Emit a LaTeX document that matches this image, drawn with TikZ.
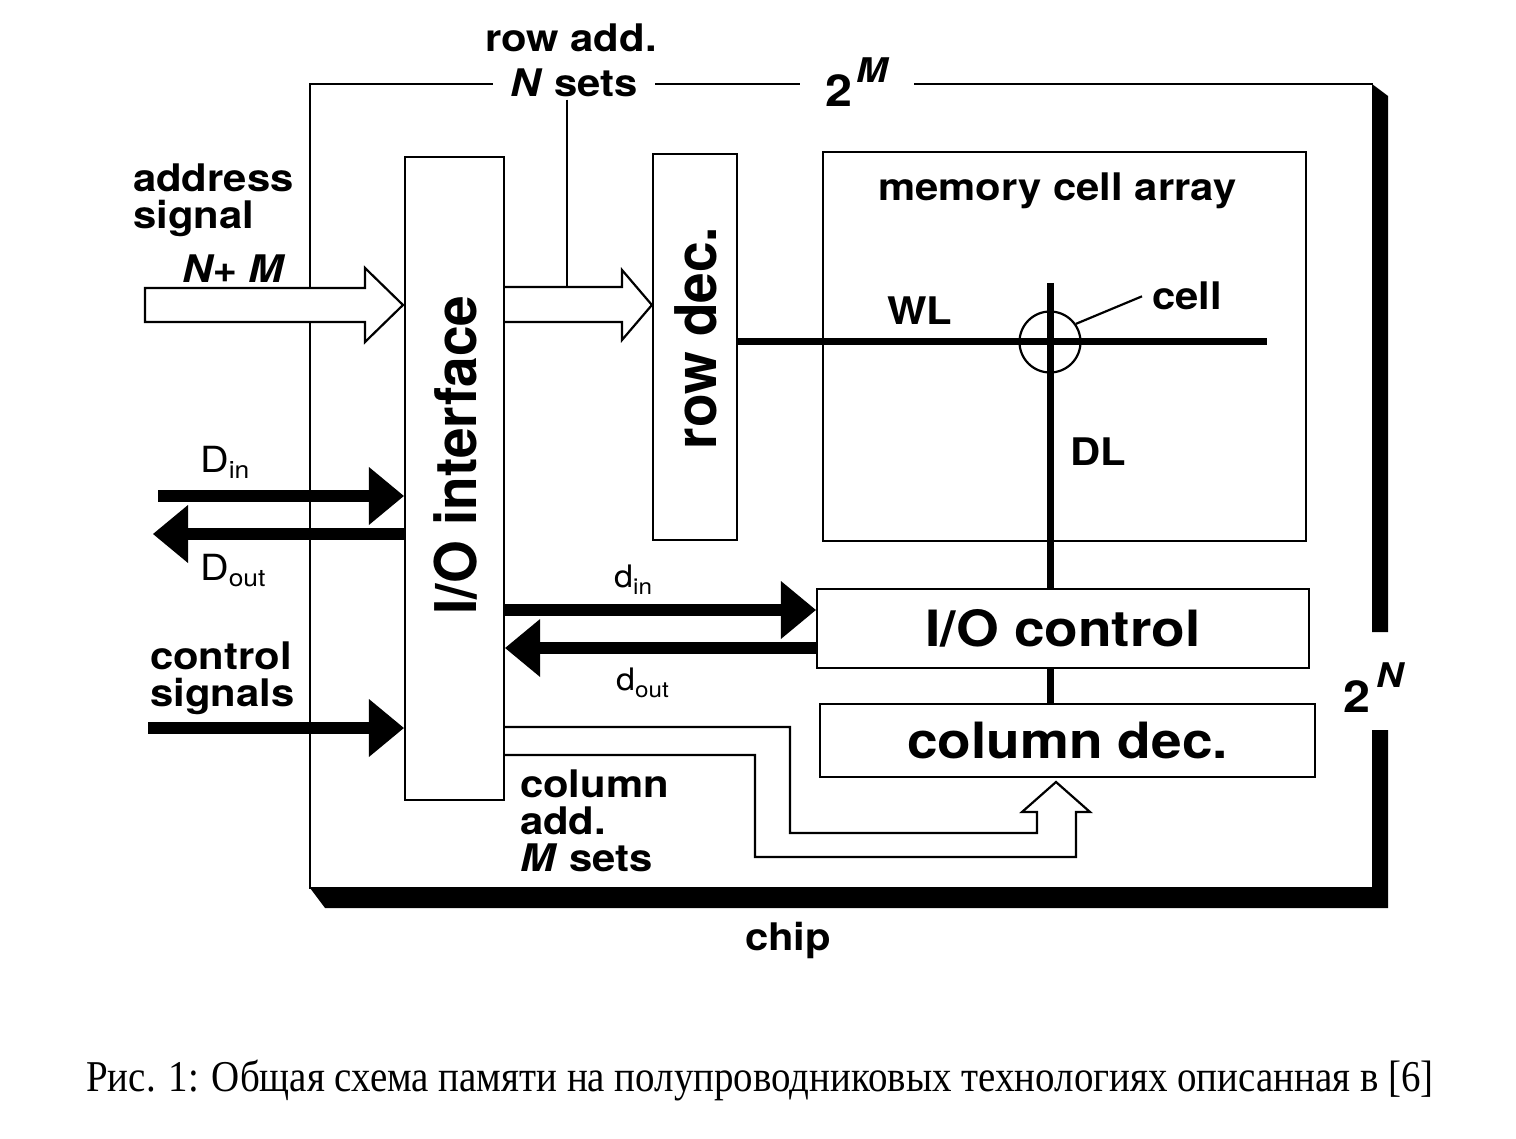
\documentclass[tikz,border=0pt]{standalone}
\usepackage{fontspec}
\setmainfont{TeX Gyre Heros}[FakeStretch=1.1]
\newfontfamily\capfont{Liberation Serif}[FakeStretch=0.885]
\usetikzlibrary{arrows.meta}

\begin{document}
\begin{tikzpicture}[x=1pt,y=-1pt,
  box/.style={draw, line width=2.2pt, inner sep=0pt},
  lbl/.style={font=\fontsize{38}{37}\selectfont\bfseries, inner sep=0pt, align=left},
  biglbl/.style={font=\fontsize{50}{56}\selectfont\bfseries, inner sep=0pt},
  sublbl/.style={font=\fontsize{36}{40}\selectfont, inner sep=0pt, anchor=base west},
  bus/.style={line width=12pt, -{Triangle[length=35pt, width=58pt, line width=0pt]}},
  wire/.style={line width=7pt},
  thin/.style={line width=2.2pt, line join=miter}]
\useasboundingbox (0,0) rectangle (1516,1139);

% chip with its shadow
\fill (1372,84) -- (1388,96) -- (1388,632) -- (1372,632) -- cycle;
\fill (1372,730) -- (1388,730) -- (1388,908) -- (325,908) -- (310,888) -- (1372,888) -- cycle;
\draw[thin] (1373,84) -- (310,84) -- (310,888) -- (1372,888);

% address input (hollow arrow)
\draw[thin, fill=white] (145,288) -- (365,288) -- (365,268) -- (403,305) -- (365,342) -- (365,322) -- (145,322) -- cycle;

% blocks
\node[box, minimum width=99pt, minimum height=643pt] (io) at (454.5,478.5) {};
\node[box, minimum width=84pt, minimum height=386pt] (rowdec) at (695,347) {};
\node[box, minimum width=483pt, minimum height=389pt] (mem) at (1064.5,346.5) {};
\node[box, biglbl, draw, minimum width=492pt, minimum height=79pt] (ioctl) at (1063,628.5) {I/O control};
\node[box, biglbl, draw, minimum width=495pt, minimum height=73pt] (coldec) at (1067.5,740.5) {column dec.};
\node[biglbl, rotate=90, yscale=1.15] at (455,455) {I/O interface};
\node[biglbl, rotate=90, yscale=1.15] at (696,338) {row dec.};

% row address
\coordinate (raddr) at (567,287);
\draw[thin] (io.east |- raddr) -- (622,287) -- (622,270) -- (rowdec.west |- 0,305) -- (622,340) -- (622,322) -- (io.east |- 0,322);

% column address
\draw[thin] (io.east |- 0,727) -- (790,727) -- (790,833) -- (1037,833) -- (1037,812) -- (1022,812) -- (1056,782)
  -- (1090,812) -- (1076,812) -- (1076,857) -- (755,857) -- (755,755) -- (io.east |- 0,755);

% word line, data line, cell
\node[circle, draw, line width=2.2pt, minimum size=61pt, inner sep=0pt] (cell) at (1050,342) {};
\draw[wire] (rowdec.east |- cell) -- (1267,342);
\draw[wire] (1050,283) -- (cell.center |- ioctl.north);
\draw[wire] (cell.center |- ioctl.south) -- (cell.center |- coldec.north);

% data and control buses
\draw[bus] (158,496) -- (io.west |- 0,496);
\draw[bus] (io.west |- 0,534) -- (153,534);
\draw[bus] (148,728) -- (io.west |- 0,728);
\draw[bus] (io.east |- 0,610) -- (ioctl.west |- 0,610);
\draw[bus] (ioctl.west |- 0,648) -- (io.east |- 0,648);

% labels
\node[lbl, anchor=base west] at (485,52) {row add.};
\node[lbl, anchor=base, fill=white, inner xsep=17pt, inner ysep=2pt] (nsets) at (574,97) {\textit{N} sets};
\draw[thin] (nsets.south -| raddr) -- (raddr);
\node[lbl, anchor=base, fill=white, inner xsep=26pt, inner ysep=2pt] at (857,107)
  {{\fontsize{44}{44}\selectfont 2}\hspace{4pt}\raisebox{24pt}{\fontsize{34}{34}\selectfont\itshape M}};
\node[lbl, anchor=base west] at (1343,712)
  {{\fontsize{44}{44}\selectfont 2}\hspace{6pt}\raisebox{25pt}{\fontsize{34}{34}\selectfont\itshape N}};
\node[lbl, anchor=base west] at (133,229) {address\\signal};
\node[lbl, anchor=base west] at (182,283) {\itshape N+ M};
\node[lbl, anchor=base west] at (150,706) {control\\signals};
\node[lbl, anchor=base west] at (520,871) {column\\add.\\\textit{M} sets};
\node[lbl, anchor=base west] at (878,201) {memory cell array};
\node[lbl, anchor=base west] at (887,325) {WL};
\node[lbl, anchor=base west] at (1070,465) {DL};
\node[lbl, anchor=base west] (celllbl) at (1152,310) {cell};
\draw[thin] (cell.35) -- ([xshift=-10pt]celllbl.west);
\node[lbl, anchor=base west] at (745,950) {chip};
\node[sublbl] at (200,472) {D\raisebox{-6pt}{\fontsize{24}{24}\selectfont in}};
\node[sublbl] at (200,580) {D\raisebox{-6pt}{\fontsize{24}{24}\selectfont out}};
\node[sublbl, font=\fontsize{31}{34}\selectfont] at (614,587) {d\raisebox{-7pt}{\fontsize{22}{22}\selectfont in}};
\node[sublbl, font=\fontsize{31}{34}\selectfont] at (616,690) {d\raisebox{-7pt}{\fontsize{22}{22}\selectfont out}};

% caption
\node[font=\capfont\fontsize{44}{48}\selectfont, inner sep=0pt] (caption) at (760,1080)
  {Рис. 1: Общая схема памяти на полупроводниковых технологиях описанная в [6]};
\end{tikzpicture}
\end{document}
